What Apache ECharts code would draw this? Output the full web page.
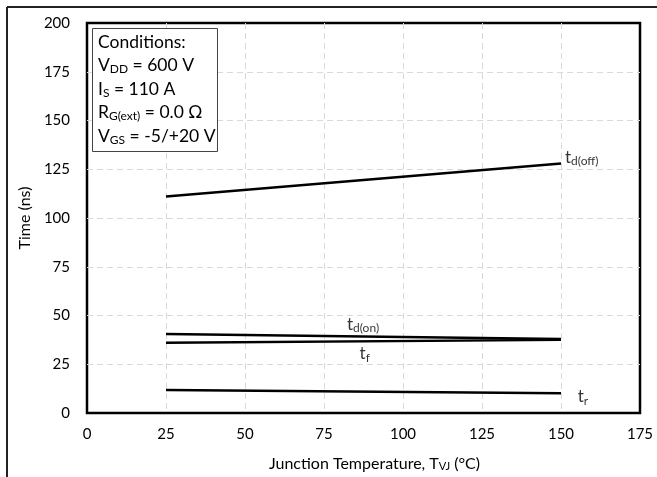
<!DOCTYPE html>
<html>
<head>
<meta charset="utf-8">
<script src="https://cdn.jsdelivr.net/npm/echarts@6/dist/echarts.min.js"></script>
<style>
  html, body { margin: 0; padding: 0; background: #fff; }
  #chart { width: 657px; height: 477px; }
</style>
</head>
<body>
<div id="chart"></div>
<script>
// 数据
var tempX = [25, 150];
var tdOff = [111, 128];
var tdOn = [40.5, 38];
var tF = [36, 37.5];
var tR = [11.8, 10.1];

// 曲线标签位置 (x, y, 文字)
var curveLabels = [
  [150, 131, '{m|t}{s|d(off)}'],
  [81, 45.5, '{m|t}{s|d(on)}'],
  [85, 30.3, '{m|t}{s|f}'],
  [154, 8.3, '{m|t}{s|r}']
];

var xTicks = { min: 0, max: 175, interval: 25 };
var yTicks = { min: 0, max: 200, interval: 25 };

var FONT = 'Lato';

function pairs(ys) {
  return tempX.map(function (x, i) { return [x, ys[i]]; });
}

function lineSeries(name, ys) {
  return {
    name: name,
    type: 'line',
    data: pairs(ys),
    symbol: 'none',
    lineStyle: { color: '#000', width: 2.5 },
    silent: true
  };
}

var chart = echarts.init(document.getElementById('chart'));

var gridLine = { show: true, showMinLine: false, showMaxLine: false, lineStyle: { color: '#d9d9d9', type: [6, 4], width: 1 } };

var option = {
  backgroundColor: '#fff',
  animation: false,
  textStyle: { fontFamily: FONT },
  grid: {
    left: 87, top: 23, right: 17, bottom: 64,
    show: true, borderColor: '#000', borderWidth: 2.5
  },
  xAxis: {
    type: 'value',
    min: xTicks.min, max: xTicks.max, interval: xTicks.interval,
    name: '{m|Junction Temperature, T}{s|VJ}{m| (°C)}',
    nameLocation: 'middle',
    nameGap: 42,
    nameTextStyle: {
      padding: [0, 0, 0, 22],
      rich: {
        m: { fontFamily: FONT, fontSize: 16, color: '#000' },
        s: { fontFamily: FONT, fontSize: 11, color: '#000', padding: [6, 0, 0, 0] }
      }
    },
    axisLine: { show: false },
    axisTick: { show: false },
    axisLabel: { color: '#000', fontSize: 15, margin: 14, fontFamily: FONT },
    splitLine: gridLine
  },
  yAxis: {
    type: 'value',
    min: yTicks.min, max: yTicks.max, interval: yTicks.interval,
    name: 'Time (ns)',
    nameLocation: 'middle',
    nameGap: 47,
    nameTextStyle: { color: '#000', fontSize: 16, fontFamily: FONT },
    axisLine: { show: false },
    axisTick: { show: false },
    axisLabel: { color: '#000', fontSize: 15, margin: 17, fontFamily: FONT },
    splitLine: gridLine
  },
  graphic: [
    // 外框（只有上边和左边）
    { type: 'line', shape: { x1: 7, y1: 7, x2: 657, y2: 7 }, style: { stroke: '#222', lineWidth: 2 } },
    { type: 'line', shape: { x1: 7, y1: 7, x2: 7, y2: 477 }, style: { stroke: '#222', lineWidth: 2 } },
    // 条件框
    {
      type: 'rect', left: 92, top: 28,
      shape: { width: 125, height: 123 },
      style: { fill: '#fff', stroke: '#444', lineWidth: 1 }, z: 100
    },
    {
      type: 'text', left: 98, top: 33, z: 101,
      style: {
        text: [
          '{m|Conditions:}',
          '{m|V}{s|DD}{m| = 600 V}',
          '{m|I}{s|S}{m| = 110 A}',
          '{m|R}{s|G(ext)}{m| = 0.0 Ω}',
          '{m|V}{s|GS}{m| = -5/+20 V}'
        ].join('\n'),
        rich: {
          m: { fontFamily: FONT, fontSize: 17.5, fill: '#000', lineHeight: 23.5 },
          s: { fontFamily: FONT, fontSize: 12, fill: '#000', lineHeight: 23.5, padding: [8, 0, 0, 0] }
        }
      }
    }
  ],
  series: [
    lineSeries('td(off)', tdOff),
    lineSeries('td(on)', tdOn),
    lineSeries('tf', tF),
    lineSeries('tr', tR),
    {
      name: 'labels',
      type: 'scatter',
      symbolSize: 0,
      silent: true,
      data: curveLabels.map(function (d) { return { value: [d[0], d[1]], text: d[2] }; }),
      label: {
        show: true,
        position: 'right',
        distance: 4,
        formatter: function (p) { return p.data.text; },
        rich: {
          m: { fontFamily: FONT, fontSize: 17, color: '#000' },
          s: { fontFamily: FONT, fontSize: 12, color: '#000', padding: [8, 0, 0, 0] }
        }
      }
    }
  ]
};

chart.setOption(option);
</script>
</body>
</html>
